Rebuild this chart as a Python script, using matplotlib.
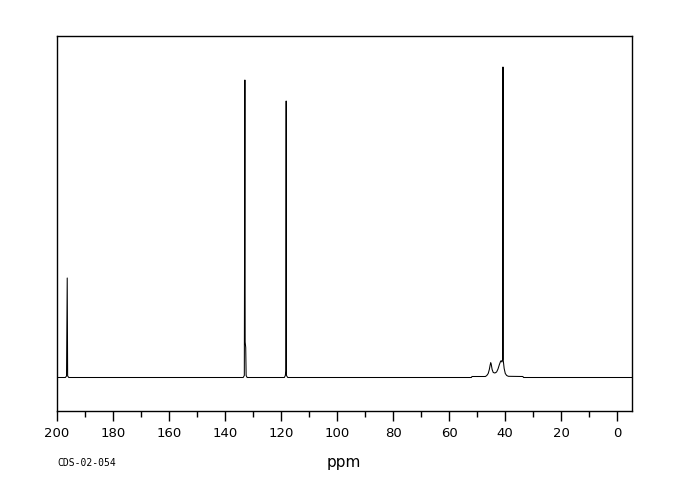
import matplotlib
matplotlib.use("Agg")
import matplotlib.pyplot as plt

# Spectrum trace (chemical shift in ppm, intensity in arbitrary units)
ppm = [200.0, 197.0, 196.6, 196.35, 196.2, 195.8,
       133.5, 133.1, 132.9, 132.8, 132.6, 132.45, 132.1,
       118.8, 118.45, 118.3, 118.15, 118.05, 117.6,
       52.0, 51.8, 47.0, 46.5, 46.0, 45.6, 45.3, 45.1, 44.9, 44.6, 44.2, 43.6,
       43.0, 42.5, 42.0, 41.6, 41.4, 41.1, 40.85, 40.72, 40.62, 40.3, 39.9,
       39.4, 38.8, 33.6, 33.4, -5.25]
intensity = [0.0, 0.0, 1.5, 99.5, 1.5, 0.0,
             0.0, 2.0, 297.5, 35.5, 30.0, 2.0, 0.0,
             0.0, 2.0, 6.5, 276.5, 2.0, 0.0,
             0.0, 1.0, 1.0, 2.0, 4.0, 8.0, 12.5, 14.8, 13.0, 8.0, 5.0, 4.5,
             5.5, 8.5, 13.0, 16.0, 16.8, 15.5, 18.0, 310.5, 17.0, 9.0, 4.0,
             2.0, 1.2, 1.0, 0.0, 0.0]

x_major = list(range(0, 201, 20))
x_minor = list(range(10, 200, 20))
x_label = "ppm"
sample_id = "CDS-02-054"

fig = plt.figure(figsize=(6.8, 5.0), dpi=100)
ax = fig.add_axes([57 / 680, (500 - 411) / 500, (631.7 - 57) / 680, (411 - 36) / 500])
ax.plot(ppm, intensity, color="black", linewidth=0.75)

ax.set_xlim(200, -5.25)
ax.set_ylim(-33.5, 341.5)
ax.set_xticks(x_major)
ax.set_xticks(x_minor, minor=True)
ax.set_xticklabels([str(v) for v in x_major])
ax.tick_params(axis="x", which="major", direction="out", length=7.5, width=1.0,
               labelsize=9.5, pad=4, colors="black")
ax.tick_params(axis="x", which="minor", direction="out", length=4, width=1.0)
ax.set_yticks([])
for s in ax.spines.values():
    s.set_linewidth(1.0)
    s.set_color("black")

fig.text(344 / 680, 1 - 462 / 500, x_label, ha="center", va="center", fontsize=11)
fig.text(57 / 680, 1 - 463 / 500, sample_id, ha="left", va="center", fontsize=7,
         family="DejaVu Sans Mono")

fig.savefig("out.png", dpi=100, facecolor="white")
